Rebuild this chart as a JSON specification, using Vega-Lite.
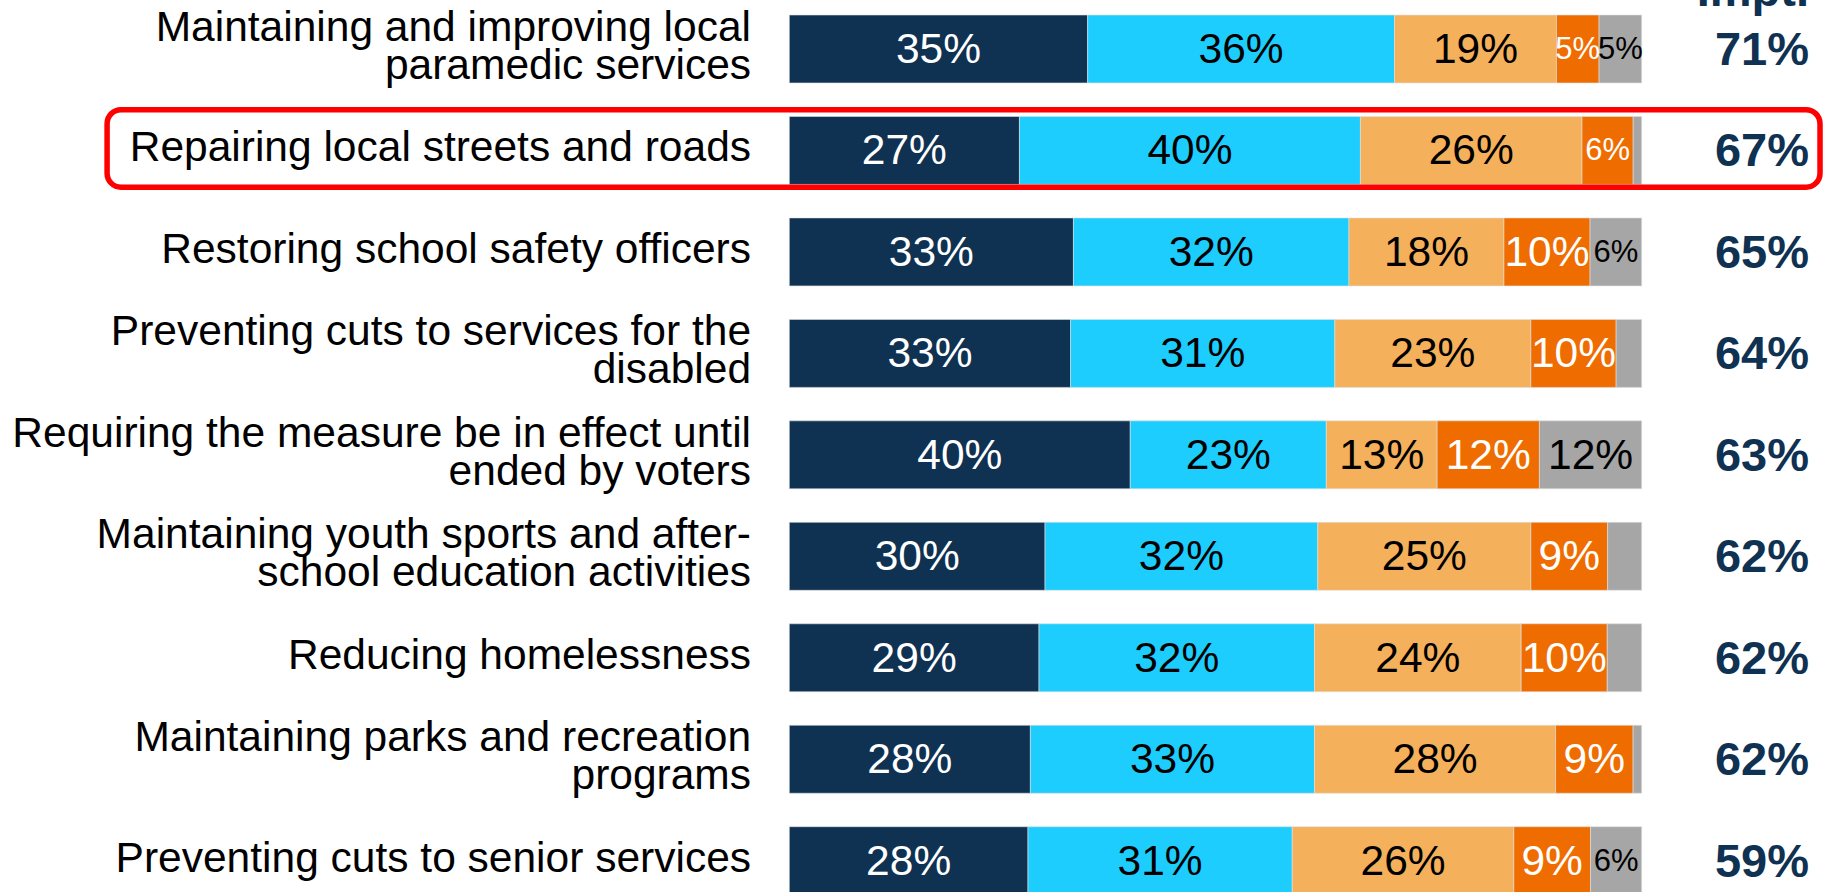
{
  "$schema": "https://vega.github.io/schema/vega-lite/v6.json",
  "autosize": "none",
  "width": 1830,
  "height": 892,
  "padding": 0,
  "background": "white",
  "config": {"view": {"stroke": null}, "font": "Liberation Sans"},
  "datasets": {
    "segs": [
      {"item": "Maintaining and improving local\nparamedic services", "seg": "Extremely important", "ord": 1, "value": 35},
      {"item": "Maintaining and improving local\nparamedic services", "seg": "Very important", "ord": 2, "value": 36},
      {"item": "Maintaining and improving local\nparamedic services", "seg": "Somewhat important", "ord": 3, "value": 19},
      {"item": "Maintaining and improving local\nparamedic services", "seg": "Not important", "ord": 4, "value": 5},
      {"item": "Maintaining and improving local\nparamedic services", "seg": "Don't know", "ord": 5, "value": 5},
      {"item": "Repairing local streets and roads", "seg": "Extremely important", "ord": 1, "value": 27},
      {"item": "Repairing local streets and roads", "seg": "Very important", "ord": 2, "value": 40},
      {"item": "Repairing local streets and roads", "seg": "Somewhat important", "ord": 3, "value": 26},
      {"item": "Repairing local streets and roads", "seg": "Not important", "ord": 4, "value": 6},
      {"item": "Repairing local streets and roads", "seg": "Don't know", "ord": 5, "value": 1},
      {"item": "Restoring school safety officers", "seg": "Extremely important", "ord": 1, "value": 33},
      {"item": "Restoring school safety officers", "seg": "Very important", "ord": 2, "value": 32},
      {"item": "Restoring school safety officers", "seg": "Somewhat important", "ord": 3, "value": 18},
      {"item": "Restoring school safety officers", "seg": "Not important", "ord": 4, "value": 10},
      {"item": "Restoring school safety officers", "seg": "Don't know", "ord": 5, "value": 6},
      {"item": "Preventing cuts to services for the\ndisabled", "seg": "Extremely important", "ord": 1, "value": 33},
      {"item": "Preventing cuts to services for the\ndisabled", "seg": "Very important", "ord": 2, "value": 31},
      {"item": "Preventing cuts to services for the\ndisabled", "seg": "Somewhat important", "ord": 3, "value": 23},
      {"item": "Preventing cuts to services for the\ndisabled", "seg": "Not important", "ord": 4, "value": 10},
      {"item": "Preventing cuts to services for the\ndisabled", "seg": "Don't know", "ord": 5, "value": 3},
      {"item": "Requiring the measure be in effect until\nended by voters", "seg": "Extremely important", "ord": 1, "value": 40},
      {"item": "Requiring the measure be in effect until\nended by voters", "seg": "Very important", "ord": 2, "value": 23},
      {"item": "Requiring the measure be in effect until\nended by voters", "seg": "Somewhat important", "ord": 3, "value": 13},
      {"item": "Requiring the measure be in effect until\nended by voters", "seg": "Not important", "ord": 4, "value": 12},
      {"item": "Requiring the measure be in effect until\nended by voters", "seg": "Don't know", "ord": 5, "value": 12},
      {"item": "Maintaining youth sports and after-\nschool education activities", "seg": "Extremely important", "ord": 1, "value": 30},
      {"item": "Maintaining youth sports and after-\nschool education activities", "seg": "Very important", "ord": 2, "value": 32},
      {"item": "Maintaining youth sports and after-\nschool education activities", "seg": "Somewhat important", "ord": 3, "value": 25},
      {"item": "Maintaining youth sports and after-\nschool education activities", "seg": "Not important", "ord": 4, "value": 9},
      {"item": "Maintaining youth sports and after-\nschool education activities", "seg": "Don't know", "ord": 5, "value": 4},
      {"item": "Reducing homelessness", "seg": "Extremely important", "ord": 1, "value": 29},
      {"item": "Reducing homelessness", "seg": "Very important", "ord": 2, "value": 32},
      {"item": "Reducing homelessness", "seg": "Somewhat important", "ord": 3, "value": 24},
      {"item": "Reducing homelessness", "seg": "Not important", "ord": 4, "value": 10},
      {"item": "Reducing homelessness", "seg": "Don't know", "ord": 5, "value": 4},
      {"item": "Maintaining parks and recreation\nprograms", "seg": "Extremely important", "ord": 1, "value": 28},
      {"item": "Maintaining parks and recreation\nprograms", "seg": "Very important", "ord": 2, "value": 33},
      {"item": "Maintaining parks and recreation\nprograms", "seg": "Somewhat important", "ord": 3, "value": 28},
      {"item": "Maintaining parks and recreation\nprograms", "seg": "Not important", "ord": 4, "value": 9},
      {"item": "Maintaining parks and recreation\nprograms", "seg": "Don't know", "ord": 5, "value": 1},
      {"item": "Preventing cuts to senior services", "seg": "Extremely important", "ord": 1, "value": 28},
      {"item": "Preventing cuts to senior services", "seg": "Very important", "ord": 2, "value": 31},
      {"item": "Preventing cuts to senior services", "seg": "Somewhat important", "ord": 3, "value": 26},
      {"item": "Preventing cuts to senior services", "seg": "Not important", "ord": 4, "value": 9},
      {"item": "Preventing cuts to senior services", "seg": "Don't know", "ord": 5, "value": 6}
    ],
    "items": [
      {"item": "Maintaining and improving local\nparamedic services", "impt": 71},
      {"item": "Repairing local streets and roads", "impt": 67},
      {"item": "Restoring school safety officers", "impt": 65},
      {"item": "Preventing cuts to services for the\ndisabled", "impt": 64},
      {"item": "Requiring the measure be in effect until\nended by voters", "impt": 63},
      {"item": "Maintaining youth sports and after-\nschool education activities", "impt": 62},
      {"item": "Reducing homelessness", "impt": 62},
      {"item": "Maintaining parks and recreation\nprograms", "impt": 62},
      {"item": "Preventing cuts to senior services", "impt": 59}
    ]
  },
  "encoding": {
    "y": {
      "field": "item",
      "type": "nominal",
      "axis": null,
      "scale": {
        "domain": [
          "Maintaining and improving local\nparamedic services",
          "Repairing local streets and roads",
          "Restoring school safety officers",
          "Preventing cuts to services for the\ndisabled",
          "Requiring the measure be in effect until\nended by voters",
          "Maintaining youth sports and after-\nschool education activities",
          "Reducing homelessness",
          "Maintaining parks and recreation\nprograms",
          "Preventing cuts to senior services"
        ],
        "range": [15, 894.7],
        "paddingInner": 0.33,
        "paddingOuter": 0
      }
    }
  },
  "layer": [
    {
      "data": {"name": "segs"},
      "transform": [
        {"stack": "value", "groupby": ["item"], "sort": [{"field": "ord"}], "offset": "normalize", "as": ["x0", "x1"]}
      ],
      "mark": {"type": "bar", "stroke": "#e0e0e0", "strokeWidth": 0.6},
      "encoding": {
        "x": {"field": "x0", "type": "quantitative", "axis": null, "scale": {"domain": [-0.92598, 1.22091], "nice": false, "zero": false}},
        "x2": {"field": "x1"},
        "color": {
          "field": "seg",
          "type": "nominal",
          "legend": null,
          "scale": {
            "domain": ["Extremely important", "Very important", "Somewhat important", "Not important", "Don't know"],
            "range": ["#0F3152", "#1DCDFE", "#F4B05B", "#EF6C00", "#A6A6A6"]
          }
        }
      }
    },
    {
      "data": {"name": "segs"},
      "transform": [
        {"stack": "value", "groupby": ["item"], "sort": [{"field": "ord"}], "offset": "normalize", "as": ["x0", "x1"]},
        {"filter": "datum.value >= 5"},
        {"calculate": "(datum.x0 + datum.x1) / 2", "as": "xm"},
        {"calculate": "datum.value + '%'", "as": "lbl"}
      ],
      "mark": {"type": "text", "align": "center", "baseline": "middle", "font": "Liberation Sans", "dy": 1},
      "encoding": {
        "x": {"field": "xm", "type": "quantitative"},
        "text": {"field": "lbl"},
        "size": {"condition": {"test": "datum.value <= 6", "value": 31}, "value": 42.5},
        "color": {"condition": {"test": "datum.ord == 1 || datum.ord == 4", "value": "white"}, "value": "black"}
      }
    },
    {
      "data": {"name": "items"},
      "transform": [{"filter": "indexof(datum.item, '\\n') < 0"}],
      "mark": {"type": "text", "align": "right", "baseline": "middle", "fontSize": 42.5, "color": "black", "font": "Liberation Sans", "dy": -2},
      "encoding": {
        "x": {"datum": -0.0449, "type": "quantitative"},
        "text": {"field": "item"}
      }
    },
    {
      "data": {"name": "items"},
      "transform": [{"filter": "indexof(datum.item, '\\n') >= 0"}],
      "mark": {"type": "text", "align": "right", "baseline": "middle", "fontSize": 42.5, "lineHeight": 38, "lineBreak": "\n", "color": "black", "font": "Liberation Sans", "dy": -21},
      "encoding": {
        "x": {"datum": -0.0449, "type": "quantitative"},
        "text": {"field": "item"}
      }
    },
    {
      "data": {"name": "items"},
      "transform": [{"calculate": "datum.impt + '%'", "as": "lbl"}],
      "mark": {"type": "text", "align": "right", "baseline": "middle", "fontSize": 47, "fontWeight": "bold", "color": "#0F3152", "font": "Liberation Sans", "dy": 2},
      "encoding": {
        "x": {"datum": 1.1963, "type": "quantitative"},
        "text": {"field": "lbl"}
      }
    },
    {
      "data": {"values": [{"item": "Maintaining and improving local\nparamedic services", "h": "Impt."}]},
      "mark": {"type": "text", "align": "right", "baseline": "alphabetic", "fontSize": 47, "fontWeight": "bold", "color": "#0F3152", "font": "Liberation Sans", "dy": -43},
      "encoding": {
        "x": {"datum": 1.1963, "type": "quantitative"},
        "text": {"field": "h"}
      }
    },
    {
      "data": {"values": [{"item": "Repairing local streets and roads"}]},
      "mark": {"type": "bar", "fill": "white", "fillOpacity": 0, "stroke": "#FF0000", "strokeWidth": 5.5, "cornerRadius": 14, "height": {"band": 1.14}, "yOffset": -2},
      "encoding": {
        "x": {"datum": -0.80035, "type": "quantitative"},
        "x2": {"datum": 1.2092}
      }
    }
  ]
}
